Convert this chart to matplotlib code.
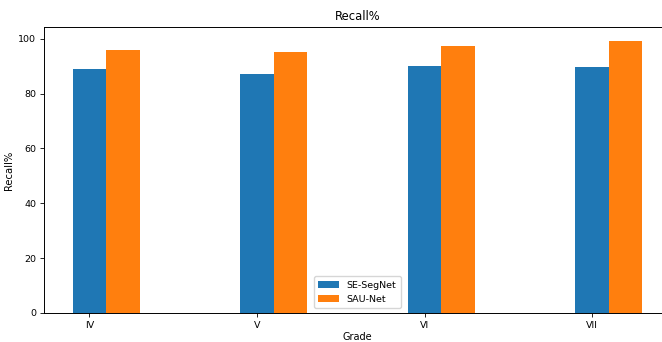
import matplotlib
matplotlib.use('Agg')
import matplotlib.pyplot as plt
import numpy as np

grades = ['IV', 'V', 'VI', 'VII']
se_segnet = [89.1, 87.2, 90.0, 89.7]
sau_net = [96.0, 95.1, 97.3, 99.3]

x = np.arange(len(grades))
width = 0.2

fig = plt.figure(figsize=(6.62, 3.42), dpi=100)
# axes run a little past the right edge of the figure
ax = fig.add_axes([44 / 662, 29 / 342, 627 / 662, 286 / 342])

ax.bar(x, se_segnet, width, label='SE-SegNet')
ax.bar(x + width, sau_net, width, label='SAU-Net')

ax.set_xticks(x)
ax.set_xticklabels(grades)
ax.tick_params(labelsize=6.8, width=0.6, length=3, pad=2.5)
for s in ax.spines.values():
    s.set_linewidth(0.7)

ax.set_title('Recall%', fontsize=8.3, pad=5)
ax.set_xlabel('Grade', fontsize=7, labelpad=2)
ax.set_ylabel('Recall%', fontsize=7.2, labelpad=3.5)
ax.legend(loc='lower center', fontsize=6.8, handlelength=2.2, borderpad=0.5,
          labelspacing=0.5)

fig.savefig('out.png', dpi=100)
